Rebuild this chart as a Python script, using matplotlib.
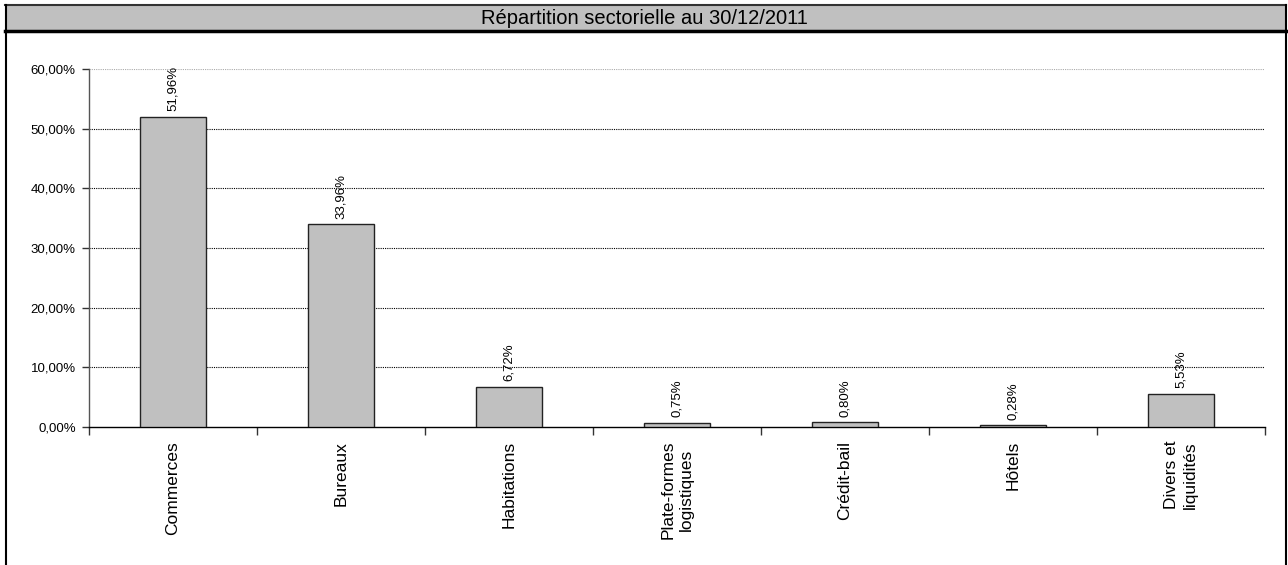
import matplotlib

matplotlib.use("Agg")
import matplotlib.pyplot as plt
from matplotlib.patches import Rectangle
from matplotlib.lines import Line2D
from matplotlib.ticker import FuncFormatter

plt.rcParams["font.family"] = ["Liberation Sans", "DejaVu Sans"]

categories = ["Commerces", "Bureaux", "Habitations", "Plate-formes\nlogistiques",
              "Crédit-bail", "Hôtels", "Divers et\nliquidités"]
values = [51.96, 33.96, 6.72, 0.75, 0.80, 0.28, 5.53]
yticks = [0, 10, 20, 30, 40, 50, 60]
title = "Répartition sectorielle au 30/12/2011"

W, H = 1288, 565
fig = plt.figure(figsize=(W / 100, H / 100), dpi=100)

# --- cadre et bandeau titre ---
fig.patches.append(Rectangle((5 / W, 1 - 31 / H), 1281 / W, 26 / H, transform=fig.transFigure,
                             facecolor="#c0c0c0", edgecolor="none", zorder=0))
fig.lines.append(Line2D([5 / W, 1286 / W], [1 - 5 / H, 1 - 5 / H], transform=fig.transFigure,
                        color="#333333", lw=1.5))
fig.lines.append(Line2D([5 / W, 1286 / W], [1 - 31 / H, 1 - 31 / H], transform=fig.transFigure,
                        color="black", lw=2.5))
fig.lines.append(Line2D([5.5 / W, 5.5 / W], [0, 1 - 5 / H], transform=fig.transFigure,
                        color="black", lw=1.5))
fig.lines.append(Line2D([1286 / W, 1286 / W], [0, 1 - 5 / H], transform=fig.transFigure,
                        color="black", lw=1.5))
fig.text(0.5, 1 - 18.5 / H, title, ha="center", va="center", fontsize=14.5)

# --- graphique ---
ax = fig.add_axes([89 / W, 1 - 427 / H, (1265 - 89) / W, (427 - 69) / H])
x = list(range(len(categories)))
ax.bar(x, values, width=0.39, color="#c0c0c0", edgecolor="#222222", linewidth=1, zorder=3)

for xi, v in zip(x, values):
    ax.annotate(f"{v:.2f}%".replace(".", ","), (xi, v), xytext=(0, 4), textcoords="offset points",
                rotation=90, ha="center", va="bottom", fontsize=9.5, zorder=4)

ax.set_xlim(-0.5, len(categories) - 0.5)
ax.set_ylim(0, 60)
ax.set_yticks(yticks)
ax.yaxis.set_major_formatter(FuncFormatter(lambda v, p: f"{v:.2f}%".replace(".", ",")))
for t in yticks[1:-1]:
    ax.axhline(t, color="black", lw=0.8, ls=(0, (1, 1)), zorder=1)
ax.axhline(60, color="#aaaaaa", lw=0.8, ls=(0, (1, 1)), zorder=1)

ax.set_xticks([i + 0.5 for i in range(-1, len(categories))])
ax.set_xticklabels([])
ax.set_xticks(x, minor=True)
ax.set_xticklabels(categories, minor=True, rotation=90, fontsize=12.5, va="top", ha="center",
                   multialignment="center", linespacing=1.3)
ax.tick_params(axis="x", which="minor", length=0, pad=10)
ax.tick_params(axis="x", which="major", length=6, width=1, direction="out", color="#333333")
ax.tick_params(axis="y", length=5, width=1, direction="out", labelsize=9.5, color="#333333", pad=4.5)

for s in ["top", "right"]:
    ax.spines[s].set_visible(False)
ax.spines["left"].set_color("#555555")
ax.spines["bottom"].set_color("black")
ax.spines["left"].set_linewidth(1)
ax.spines["bottom"].set_linewidth(1)

plt.savefig("out.png", dpi=100)
plt.close()
